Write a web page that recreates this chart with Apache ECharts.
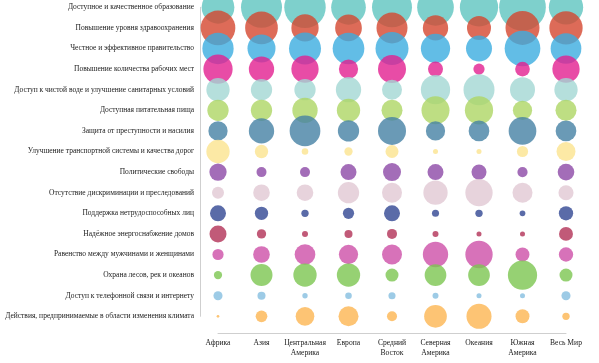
<!DOCTYPE html>
<html>
<head>
<meta charset="utf-8">
<script src="https://cdn.jsdelivr.net/npm/echarts@6/dist/echarts.min.js"></script>
<style>
html,body{margin:0;padding:0;background:#fff;}
#chart{width:599px;height:363px;}
</style>
</head>
<body>
<div id="chart"></div>
<script>
var regions = ['Африка', 'Азия', 'Центральная\nАмерика', 'Европа', 'Средний\nВосток', 'Северная\nАмерика', 'Океания', 'Южная\nАмерика', 'Весь Мир'];

var issues = [
  'Доступное и качественное образование',
  'Повышение уровня здравоохранения',
  'Честное и эффективное правительство',
  'Повышение количества рабочих мест',
  'Доступ к чистой воде и улучшение санитарных условий',
  'Доступная питательная пища',
  'Защита от преступности и насилия',
  'Улучшение транспортной системы и качества дорог',
  'Политические свободы',
  'Отсутствие дискриминации и преследований',
  'Поддержка нетрудоспособных лиц',
  'Надёжное энергоснабжение домов',
  'Равенство между мужчинами и женщинами',
  'Охрана лесов, рек и океанов',
  'Доступ к телефонной связи и интернету',
  'Действия, предпринимаемые в области изменения климата'
];

// Share of votes per issue (row) and region (column), %
var education   = [29.7, 46.7, 47.8, 33.4, 44.4, 37.4, 40.7, 60.6, 32.7];
var health      = [33.4, 29.7, 20.7, 19.8, 26.7, 17.8, 16.0, 32.1, 30.8];
var government  = [27.2, 21.8, 28.4, 27.9, 30.3, 23.8, 18.8, 35.4, 26.2];
var jobs        = [23.8, 17.8, 20.7, 10.3, 21.8, 6.3, 3.5, 6.0, 20.7];
var water       = [15.1, 12.6, 12.6, 17.8, 11.1, 23.8, 26.7, 17.4, 15.1];
var food        = [12.6, 12.6, 17.8, 15.1, 12.3, 21.8, 22.2, 10.3, 12.3];
var crime       = [10.3, 17.8, 26.2, 12.6, 21.8, 10.3, 11.9, 21.3, 11.9];
var roads       = [15.1, 4.9, 1.2, 1.9, 4.7, 0.7, 0.7, 3.5, 10.0];
var freedoms    = [8.3, 2.8, 2.8, 7.1, 9.0, 7.1, 6.3, 2.9, 7.7];
var discrim     = [4.0, 7.7, 7.7, 12.6, 11.1, 16.4, 20.7, 11.1, 6.3];
var disabled    = [7.1, 4.9, 1.5, 3.5, 7.1, 1.4, 1.5, 0.9, 5.7];
var energy      = [8.0, 2.4, 1.0, 1.8, 2.8, 1.0, 0.7, 0.7, 5.4];
var equality    = [3.5, 7.7, 11.9, 10.3, 11.1, 17.8, 20.7, 5.4, 5.7];
var forests     = [1.9, 13.4, 15.1, 15.1, 4.7, 13.1, 13.1, 23.8, 4.7];
var phone       = [2.3, 1.8, 0.8, 1.2, 1.4, 1.0, 0.7, 0.7, 2.3];
var climate     = [0.2, 3.8, 9.7, 11.1, 2.8, 14.3, 17.4, 5.4, 1.5];

var rows = [education, health, government, jobs, water, food, crime, roads,
            freedoms, discrim, disabled, energy, equality, forests, phone, climate];

var colors = ['#5ec4bf', '#d4462e', '#3bace0', '#e21f90', '#a2d7d3', '#aed664',
              '#4581a4', '#fbe48f', '#8c48a6', '#e1c8d3', '#314692', '#b23156',
              '#cd4fa8', '#7cc650', '#85bee0', '#fdb551'];

var series = rows.map(function (vals, r) {
  return {
    type: 'scatter',
    name: issues[r],
    clip: false,
    data: vals.map(function (v, c) { return [c, r, v]; }),
    symbolSize: function (d) { return 6 * Math.sqrt(d[2]); },
    itemStyle: { color: colors[r], opacity: 0.8 },
    emphasis: { disabled: true }
  };
});

var chart = echarts.init(document.getElementById('chart'));
chart.setOption({
  animation: false,
  backgroundColor: '#fff',
  grid: { left: 218, right: 33, top: 7.3, bottom: 46.7, containLabel: false, outerBoundsMode: 'none' },
  xAxis: {
    type: 'category',
    data: regions,
    boundaryGap: false,
    offset: 17,
    axisLine: { lineStyle: { color: '#cfcfcf' } },
    axisTick: { alignWithLabel: true, length: 3, lineStyle: { color: '#cfcfcf' } },
    axisLabel: {
      interval: 0, margin: 5,
      fontFamily: 'Liberation Serif', fontSize: 7.6, color: '#1a1a1a', lineHeight: 9.5
    },
    splitLine: { show: false }
  },
  yAxis: {
    type: 'category',
    data: issues,
    inverse: true,
    boundaryGap: false,
    offset: 18,
    axisLine: { lineStyle: { color: '#cfcfcf' } },
    axisTick: { length: 4, lineStyle: { color: '#cfcfcf' } },
    axisLabel: {
      interval: 0, margin: 6,
      fontFamily: 'Liberation Serif', fontSize: 7.5, color: '#1a1a1a'
    },
    splitLine: { show: false }
  },
  series: series
});
</script>
</body>
</html>
